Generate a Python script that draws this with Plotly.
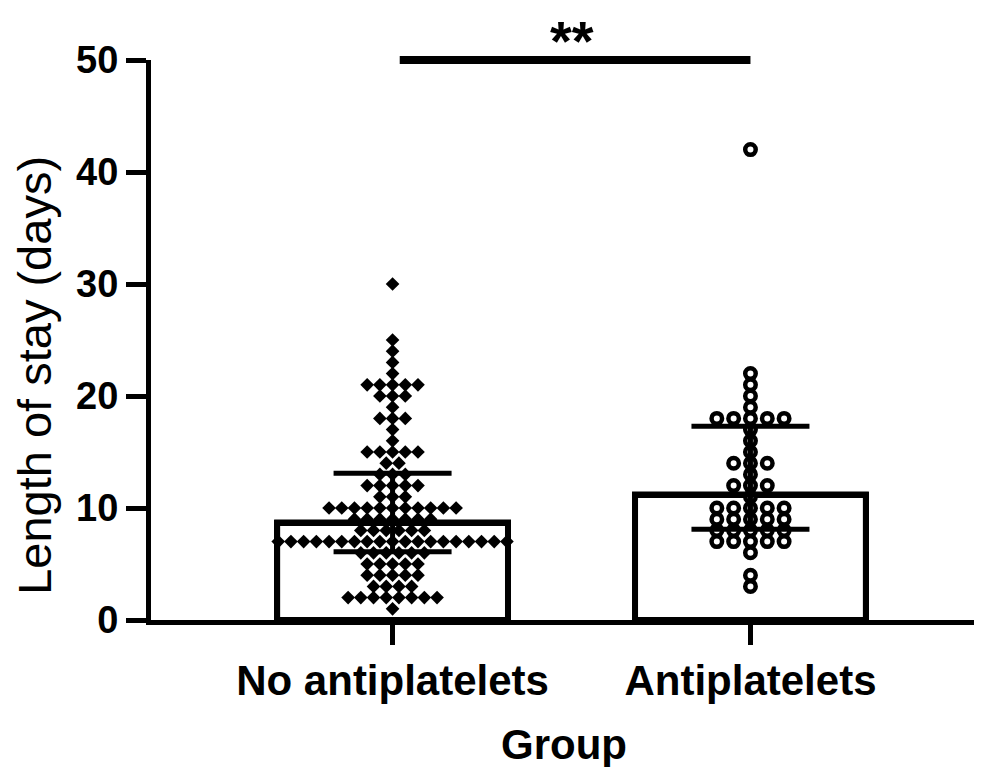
import plotly.graph_objects as go
from collections import Counter

# ---------------- data ----------------
categories = ["No antiplatelets", "Antiplatelets"]

no_antiplatelets = [
    30, 25, 24, 23, 22,
    21, 21, 21, 21, 21,
    20, 20, 20,
    19,
    18, 18, 18,
    17, 16,
    15, 15, 15, 15, 15,
    14, 14,
    13, 13, 13,
    12, 12, 12, 12, 12,
    11, 11, 11,
    10, 10, 10, 10, 10, 10, 10, 10, 10, 10, 10,
    9, 9, 9, 9, 9, 9, 9,
    8, 8, 8, 8, 8, 8,
    7, 7, 7, 7, 7, 7, 7, 7, 7, 7, 7, 7, 7, 7, 7, 7, 7, 7, 7,
    6, 6, 6, 6, 6, 6,
    5, 5, 5, 5, 5,
    4, 4, 4, 4, 4,
    3, 3, 3, 3,
    2, 2, 2, 2, 2, 2, 2, 2,
    1,
]

antiplatelets = [
    42, 22, 21, 20, 19,
    18, 18, 18, 18, 18,
    17, 16, 15,
    14, 14, 14,
    13,
    12, 12, 12,
    11,
    10, 10, 10, 10, 10,
    9, 9, 9, 9, 9,
    8, 8, 8, 8, 8,
    7, 7, 7, 7, 7,
    6, 4, 3,
]

bar_heights = [8.7, 11.2]
err_high = [13.1, 17.3]
err_low = [6.1, 8.1]

y_ticks = [0, 10, 20, 30, 40, 50]
y_range = [0, 50]
sig_label = "**"
sig_level = 50
x_title = "Group"
y_title = "Length of stay (days)"

# ---------------- styling ----------------
FONT = "Liberation Sans, Arial, sans-serif"
BAR_W = 0.645
CAT_X = list(range(len(categories)))
X_RANGE = [-0.675, 1.633]


def swarm(values, center, spacing):
    counts = Counter(values)
    seen = Counter()
    xs = []
    for v in values:
        n = counts[v]
        k = seen[v]
        seen[v] += 1
        xs.append(center + (k - (n - 1) / 2) * spacing)
    return xs


fig = go.Figure()

# bar fill
fig.add_trace(go.Bar(
    x=CAT_X, y=bar_heights, width=BAR_W,
    marker=dict(color="white", line=dict(color="black", width=6)),
    hoverinfo="skip", showlegend=False,
))

# dots
fig.add_trace(go.Scatter(
    x=swarm(no_antiplatelets, CAT_X[0], 0.0355), y=no_antiplatelets,
    mode="markers",
    marker=dict(symbol="diamond", size=10.5, color="black", line=dict(width=0)),
    showlegend=False,
))
fig.add_trace(go.Scatter(
    x=swarm(antiplatelets, CAT_X[1], 0.047), y=antiplatelets,
    mode="markers",
    marker=dict(symbol="circle", size=10.5, color="white",
                line=dict(color="black", width=4.5)),
    showlegend=False,
))

# bar outlines on top of the dots
ox, oy = [], []
for c, h in zip(CAT_X, bar_heights):
    ox += [c - BAR_W / 2, c - BAR_W / 2, c + BAR_W / 2, c + BAR_W / 2, None]
    oy += [0, h, h, 0, None]
fig.add_trace(go.Scatter(
    x=ox, y=oy, mode="lines",
    line=dict(color="black", width=6),
    hoverinfo="skip", showlegend=False,
))

# error bars
fig.add_trace(go.Scatter(
    x=CAT_X, y=bar_heights, mode="markers",
    marker=dict(size=1, color="rgba(0,0,0,0)"),
    error_y=dict(type="data", symmetric=False,
                 array=[h - b for h, b in zip(err_high, bar_heights)],
                 arrayminus=[b - l for b, l in zip(bar_heights, err_low)],
                 color="black", thickness=5, width=59),
    hoverinfo="skip", showlegend=False,
))

# significance bar (y given as fraction of the y-axis domain so it is not clipped)
sig_frac = (sig_level - y_range[0]) / (y_range[1] - y_range[0])
fig.add_shape(type="line", xref="x", yref="y domain",
              x0=CAT_X[0] + 0.02, x1=CAT_X[1], y0=sig_frac, y1=sig_frac,
              line=dict(color="black", width=8), layer="above")
fig.add_annotation(x=(CAT_X[0] + CAT_X[1]) / 2, y=1, xref="x", yref="paper",
                   text=sig_label, showarrow=False, yanchor="top", yshift=52,
                   borderpad=0,
                   font=dict(family=FONT, size=56, color="black", weight="bold"))

# y-axis title placed as a rotated annotation
fig.add_annotation(x=-0.1404, y=0.436, xref="paper", yref="paper",
                   text=y_title, textangle=-90, showarrow=False,
                   xanchor="center", yanchor="middle",
                   font=dict(family=FONT, size=47, color="black"))

axis_common = dict(
    showline=True, linewidth=5, linecolor="black",
    ticks="outside", ticklen=20, tickwidth=5, tickcolor="black",
    showgrid=False, zeroline=False,
)

fig.update_layout(
    width=982, height=767,
    margin=dict(l=143, r=13, t=52, b=155),
    paper_bgcolor="white", plot_bgcolor="white",
    font=dict(family=FONT, color="black"),
    bargap=0,
    xaxis=dict(
        range=X_RANGE,
        tickvals=CAT_X, ticktext=categories,
        tickfont=dict(family=FONT, size=42, color="black", weight="bold"),
        title=dict(text=x_title, font=dict(family=FONT, size=42, color="black", weight="bold"),
                   standoff=28),
        **axis_common,
    ),
    yaxis=dict(
        range=y_range,
        tickvals=y_ticks, ticktext=[str(t) for t in y_ticks],
        tickfont=dict(family=FONT, size=38, color="black", weight="bold"),
        **axis_common,
    ),
)

fig.write_html("out.html")
